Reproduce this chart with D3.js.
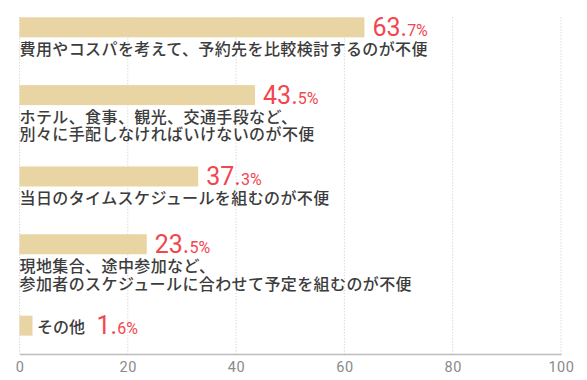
<!DOCTYPE html>
<html>
<head>
<meta charset="utf-8">
<script src="https://cdn.jsdelivr.net/npm/d3@7"></script>
<style>
  body { margin: 0; background: #fff; }
  svg { display: block; }
</style>
</head>
<body>
<svg id="chart" width="587" height="380"></svg>
<script>
// data
const categories = [
  "費用やコスパを考えて、予約先を比較検討するのが不便",
  "ホテル、食事、観光、交通手段など、\n別々に手配しなければいけないのが不便",
  "当日のタイムスケジュールを組むのが不便",
  "現地集合、途中参加など、\n参加者のスケジュールに合わせて予定を組むのが不便",
  "その他"
];
// bar lengths as drawn (the 3rd bar is drawn shorter than its label says)
const barValues = [63.7, 43.5, 33.0, 23.5, 2.4];
const valueLabels = ["63.7", "43.5", "37.3", "23.5", "1.6"];
const xTicks = [0, 20, 40, 60, 80, 100];

const jpFont = "'Noto Sans CJK JP', 'Noto Sans', sans-serif";
const numFont = "Roboto, 'Noto Sans', sans-serif";

var svg = d3.select("#chart");

var plotTop = 17.3, axisY = 354, barH = 20;
var x = d3.scaleLinear().domain([0, 100]).range([19.5, 561]);

// vertical layout: each group takes one unit, plus a bit for every extra label line
var lines = categories.map(c => c.split("\n"));
var units = lines.map(l => 1 + 0.2 * (l.length - 1));
var starts = [];
units.reduce((acc, u, i) => { starts[i] = acc; return acc + u; }, 0);
var total = d3.sum(units);
var y = d3.scaleLinear().domain([0, total]).range([plotTop, plotTop + total * 67.8]);

// dotted grid
svg.append("g")
  .selectAll("line")
  .data(xTicks)
  .enter()
  .append("line")
    .attr("x1", d => x(d)).attr("x2", d => x(d))
    .attr("y1", plotTop).attr("y2", axisY)
    .attr("stroke", "#c8c8c8")
    .attr("stroke-width", 1)
    .attr("stroke-dasharray", "1,2");

// axis
var axis = svg.append("g")
  .attr("transform", "translate(0," + axisY + ")")
  .call(d3.axisBottom(x).tickValues(xTicks).tickSize(0).tickPadding(8));
axis.select(".domain").attr("stroke", "#bdbdbd").attr("stroke-width", 1.5);
axis.selectAll("text")
  .attr("fill", "#8a8a8a")
  .style("font-family", numFont)
  .style("font-size", "14.5px")
  .style("letter-spacing", "0.6px");

// bars
var groups = svg.append("g")
  .selectAll("g")
  .data(categories)
  .enter()
  .append("g");

groups.append("rect")
  .attr("x", x(0))
  .attr("y", (d, i) => y(starts[i]))
  .attr("width", (d, i) => x(barValues[i]) - x(0))
  .attr("height", barH)
  .attr("fill", "#e9d4a4");

groups.each(function(d, i) {
  var g = d3.select(this);
  var top = y(starts[i]);
  var barEnd = x(barValues[i]);
  var parts = valueLabels[i].split(".");
  var inline = barValues[i] < 5;

  var valueX = barEnd + 8;
  if (inline) {
    // short bar: category name sits next to the bar
    var lab = g.append("text")
      .attr("x", barEnd + 4.5)
      .attr("y", top + barH / 2)
      .attr("dominant-baseline", "central")
      .attr("fill", "#3c3c3c")
      .style("font-family", jpFont)
      .style("font-weight", 500)
      .style("font-size", "16px")
      .text(d);
    valueX = barEnd + 4.5 + lab.node().getComputedTextLength() + 11.5;
  } else {
    g.selectAll(".cat")
      .data(lines[i])
      .enter()
      .append("text")
        .attr("class", "cat")
        .attr("x", x(0))
        .attr("y", (t, j) => top + barH + 10.5 + j * 17.8)
        .attr("dominant-baseline", "central")
        .attr("fill", "#3c3c3c")
        .style("font-family", jpFont)
        .style("font-weight", 500)
        .style("font-size", "16px")
        .style("letter-spacing", "0.4px")
        .text(t => t);
  }

  var v = g.append("text")
    .attr("x", valueX)
    .attr("y", top + barH - 1.5)
    .attr("fill", "#f2464f")
    .style("font-family", numFont)
    .style("font-weight", 400);
  v.append("tspan").style("font-size", "25px").text(parts[0] + ".");
  v.append("tspan").style("font-size", "16px").text(parts[1] + "%");
});
</script>
</body>
</html>
